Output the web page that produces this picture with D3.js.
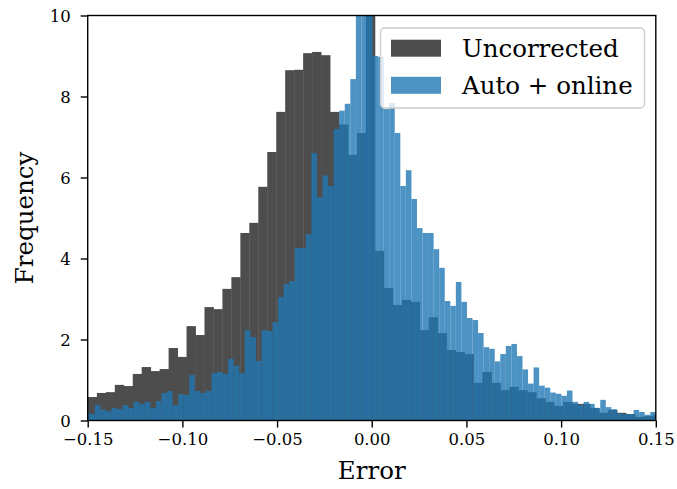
<!DOCTYPE html>
<html>
<head>
<meta charset="utf-8">
<script src="https://cdn.jsdelivr.net/npm/d3@7"></script>
<style>
  html, body { margin: 0; padding: 0; background: #ffffff; }
  svg { display: block; }
  text { font-family: "DejaVu Serif", serif; fill: #000; }
</style>
</head>
<body>
<svg id="chart" width="677" height="489"></svg>
<script>
// Histogram heights (normalised frequency) of the prediction error.
const uncorrectedBinStart = -0.1499;
const uncorrectedBinWidth = 0.004736;
const uncorrected = [
  0.58, 0.68, 0.70, 0.88, 0.85, 1.15, 1.32, 1.22, 1.27, 1.79,
  1.57, 2.33, 2.11, 2.80, 2.75, 3.25, 3.54, 4.63, 4.88, 5.77,
  6.63, 7.62, 8.65, 8.66, 9.07, 9.10, 9.02, 7.62, 7.31, 6.56,
  7.10, 10.6, 4.19, 3.27, 2.85, 2.98, 2.93, 2.23, 2.55, 2.16,
  1.74, 1.69, 1.64, 0.93, 1.20, 0.93, 0.75, 0.83, 0.75, 0.70,
  0.55, 0.46, 0.36, 0.46, 0.41, 0.41, 0.31, 0.19, 0.26, 0.19,
  0.16, 0.09, 0.11, 0.14
];

const autoBinStart = -0.15210;
const autoBinWidth = 0.002933;
const autoOnline = [
  0.21, 0.16, 0.38, 0.27, 0.23, 0.31, 0.28, 0.38, 0.31, 0.46,
  0.41, 0.46, 0.31, 0.48, 0.68, 0.73, 0.38, 0.65, 0.63, 1.12,
  0.73, 0.68, 0.73, 1.17, 1.20, 1.15, 1.52, 1.35, 1.17, 2.23,
  2.06, 1.47, 2.23, 2.21, 2.43, 3.05, 3.37, 3.44, 4.26, 4.26,
  4.60, 6.60, 5.51, 6.05, 5.79, 7.20, 7.65, 7.82, 8.43, 10.8,
  11.6, 11.1, 9.00, 8.98, 7.69, 7.84, 7.10, 5.79, 6.18, 5.47,
  4.75, 4.63, 4.63, 4.23, 3.77, 2.95, 2.83, 3.42, 2.93, 2.53,
  2.48, 2.16, 1.81, 1.77, 1.46, 1.64, 1.84, 1.89, 1.59, 1.26,
  0.91, 1.31, 0.86, 0.81, 0.69, 0.66, 0.61, 0.74, 0.46, 0.38,
  0.46, 0.41, 0.31, 0.51, 0.33, 0.28, 0.17, 0.16, 0.16, 0.26,
  0.21, 0.14, 0.21
];

const xTicks = [-0.15, -0.10, -0.05, 0.00, 0.05, 0.10, 0.15];
const yTicks = [0, 2, 4, 6, 8, 10];
const seriesNames = ["Uncorrected", "Auto + online"];
const xLabel = "Error";
const yLabel = "Frequency";

// Layout
const plot = { left: 87.7, right: 655.8, top: 15.5, bottom: 420.5 };
const colors = { uncorrected: "#4d4d4d", auto: "#1f77b4" };

const svg = d3.select("#chart");
const x = d3.scaleLinear().domain([-0.15, 0.15]).range([plot.left, plot.right]);
const y = d3.scaleLinear().domain([0, 10]).range([plot.bottom, plot.top]);

svg.append("defs").append("clipPath").attr("id", "plotClip")
  .append("rect")
  .attr("x", plot.left).attr("y", plot.top)
  .attr("width", plot.right - plot.left).attr("height", plot.bottom - plot.top);

const bars = svg.append("g").attr("clip-path", "url(#plotClip)");

function binsOf(values, start, width) {
  return values.map((v, i) => ({ x0: start + i * width, x1: start + (i + 1) * width, v }));
}

// Opaque grey bars, slightly overlapped so neighbouring bins join without seams
bars.append("g").selectAll("rect")
  .data(binsOf(uncorrected, uncorrectedBinStart, uncorrectedBinWidth))
  .join("rect")
  .attr("x", d => x(d.x0))
  .attr("width", d => x(d.x1) - x(d.x0) + 0.4)
  .attr("y", d => y(d.v))
  .attr("height", d => y(0) - y(d.v))
  .attr("fill", colors.uncorrected);

// Semi-transparent blue bars drawn on top
bars.append("g").selectAll("rect")
  .data(binsOf(autoOnline, autoBinStart, autoBinWidth))
  .join("rect")
  .attr("x", d => x(d.x0))
  .attr("width", d => x(d.x1) - x(d.x0))
  .attr("y", d => y(d.v))
  .attr("height", d => y(0) - y(d.v))
  .attr("fill", colors.auto)
  .attr("fill-opacity", 0.8);

// Axes
const fmtX = v => (v < 0 ? "\u2212" : "") + Math.abs(v).toFixed(2);
const xAxis = d3.axisBottom(x).tickValues(xTicks).tickFormat(fmtX).tickSize(7).tickPadding(5);
const yAxis = d3.axisLeft(y).tickValues(yTicks).tickFormat(d3.format("d")).tickSize(7).tickPadding(5);

const gx = svg.append("g").attr("transform", `translate(0,${plot.bottom})`).call(xAxis);
const gy = svg.append("g").attr("transform", `translate(${plot.left},0)`).call(yAxis);

[gx, gy].forEach(g => {
  g.select(".domain").remove();
  g.selectAll(".tick line").attr("stroke", "#000").attr("stroke-width", 1.4);
  g.selectAll(".tick text")
    .attr("font-family", "DejaVu Serif")
    .attr("font-size", 16.5)
    .attr("fill", "#000");
});
gx.selectAll(".tick text").attr("dy", "0.71em").attr("y", 13);
gy.selectAll(".tick text").attr("x", -17).attr("dy", "0.36em");

// Frame
svg.append("rect")
  .attr("x", plot.left).attr("y", plot.top)
  .attr("width", plot.right - plot.left).attr("height", plot.bottom - plot.top)
  .attr("fill", "none").attr("stroke", "#000").attr("stroke-width", 1.4);

// Axis labels
svg.append("text")
  .attr("x", (plot.left + plot.right) / 2).attr("y", 479)
  .attr("text-anchor", "middle").attr("font-size", 24.5)
  .text(xLabel);

svg.append("text")
  .attr("transform", `translate(33,${(plot.top + plot.bottom) / 2}) rotate(-90)`)
  .attr("text-anchor", "middle").attr("font-size", 24.5)
  .text(yLabel);

// Legend
const legend = svg.append("g");
legend.append("rect")
  .attr("x", 380.5).attr("y", 28).attr("width", 264).attr("height", 80)
  .attr("rx", 4).attr("ry", 4)
  .attr("fill", "#fff").attr("fill-opacity", 0.8)
  .attr("stroke", "#cccccc").attr("stroke-width", 1.3);

const legendItems = [
  { name: seriesNames[0], color: colors.uncorrected, opacity: 1, y: 39.7 },
  { name: seriesNames[1], color: colors.auto, opacity: 0.8, y: 76.8 }
];
legendItems.forEach(it => {
  legend.append("rect")
    .attr("x", 391).attr("y", it.y).attr("width", 50).attr("height", 17)
    .attr("fill", it.color).attr("fill-opacity", it.opacity);
  legend.append("text")
    .attr("x", 462).attr("y", it.y + 17)
    .attr("font-size", 24.5)
    .text(it.name);
});
</script>
</body>
</html>
